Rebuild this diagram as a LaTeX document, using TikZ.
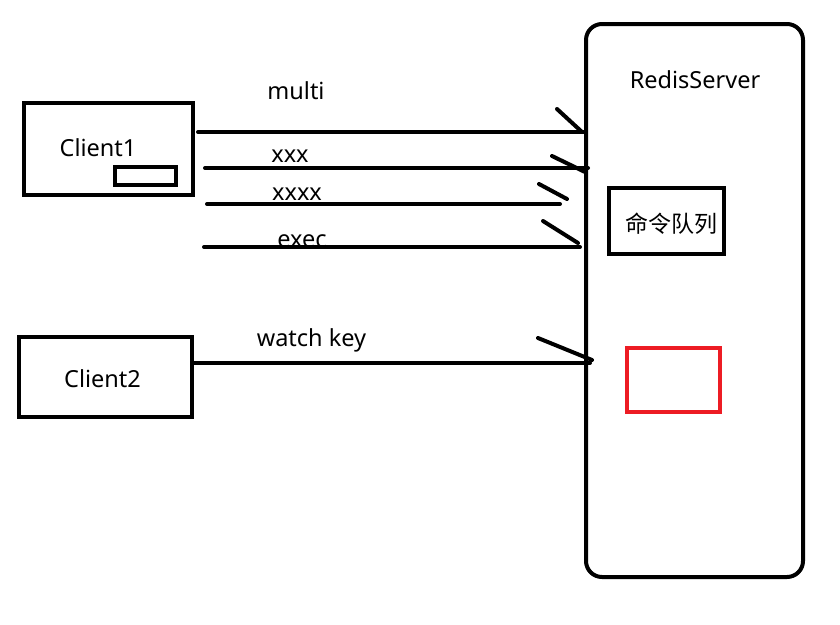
\documentclass[tikz,border=0pt]{standalone}
\usepackage{fontspec}
\setmainfont{Noto Sans}
\newfontfamily\cjk{Noto Sans CJK SC}
\usepackage{xcolor}
\usepackage{tikz}
\usetikzlibrary{positioning}
\definecolor{watchred}{RGB}{237,28,36}
\tikzset{
    lbl/.style={font=\fontsize{23.5}{28}\selectfont, inner sep=0pt},
    frame/.style={draw, line width=4pt, inner sep=0pt},
    wire/.style={line width=4pt, line cap=round},
}

\begin{document}
\begin{tikzpicture}[x=1pt, y=-1pt]
    \useasboundingbox (0,0) rectangle (840,624);

    % Clients
    \node [frame, minimum width=169pt, minimum height=92pt] (client1) at (108.5,149) {};
    \node [frame, line width=3.5pt, minimum width=61pt, minimum height=18pt] (buf) at (145.5,176) {};
    \node [lbl, anchor=base] (c1text) at (98,156) {Client1};
    \node [frame, minimum width=173pt, minimum height=80pt] (client2) at (105.5,377) {};
    \node [lbl, anchor=base] (c2text) at (102.5,387) {Client2};

    % Server
    \node [frame, rounded corners=16pt, minimum width=217pt, minimum height=553pt] (server) at (694.5,300.5) {};
    \node [lbl, anchor=base] (srvtext) at (695,88) {RedisServer};
    \node [frame, minimum width=115pt, minimum height=66pt] (queue) at (666.5,221) {};
    \node [lbl, font=\cjk\fontsize{23}{28}\selectfont] (qtext) at (671.5,223.5) {命令队列};
    \node [frame, draw=watchred, minimum width=93pt, minimum height=64pt] (watched) at (673.5,380) {};

    % Commands
    \foreach \n/\xa/\xb/\y/\ax/\ay/\bx/\by/\lx/\ly/\cmd in {1/198/584/132/582/132/557/109/296/99/multi, 2/205/588/168/585/172/552/156/290/162/xxx, 3/207/560/204/567/199/539/184/297/200/xxxx, 4/204/580/247/578/243/543/221/302/247/exec, 5/193/590/363/592/360/538/338/311.5/346/watch key} {
        \node [lbl, anchor=base] (cmd\n) at (\lx,\ly) {\cmd};
        \coordinate (from\n) at (\xa,\y);
        \coordinate (to\n) at (\xb,\y);
        \coordinate (tip\n) at (\ax,\ay);
        \coordinate (tail\n) at (\bx,\by);
        \draw [wire] (from\n) -- (to\n);
        \draw [wire] (tail\n) -- (tip\n);
    }
\end{tikzpicture}
\end{document}
